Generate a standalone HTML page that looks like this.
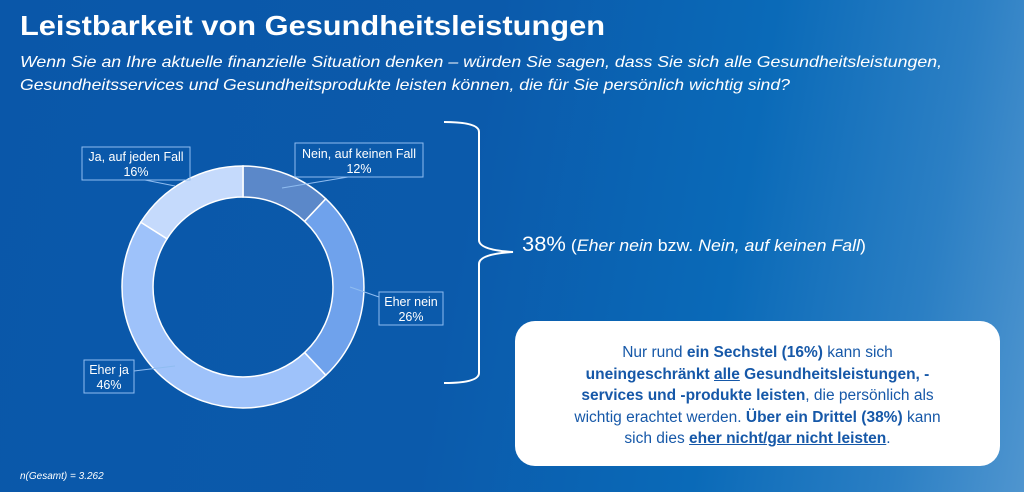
<!DOCTYPE html>
<html><head><meta charset="utf-8"><style>
html,body{margin:0;padding:0;}
body{width:1024px;height:492px;overflow:hidden;background:linear-gradient(100deg,#0a57a9 0%,#0b5aab 45%,#0a6ab8 70%,#2b7fc4 88%,#4f95cf 100%);font-family:"Liberation Sans",sans-serif;}
svg{display:block}
.box{position:absolute;left:515px;top:321px;width:485px;height:145px;background:#fff;border-radius:20px;color:#1658a8;font-size:15.5px;line-height:21.5px;text-align:center;box-sizing:border-box;padding-top:21px;}
</style></head><body>
<svg width="1024" height="492" style="position:absolute;left:0;top:0">
<text x="20" y="35" fill="#fff" font-weight="bold" font-size="28" textLength="585" lengthAdjust="spacingAndGlyphs">Leistbarkeit von Gesundheitsleistungen</text>
<text x="20" y="67" fill="#fff" font-style="italic" font-size="16" textLength="922" lengthAdjust="spacingAndGlyphs">Wenn Sie an Ihre aktuelle finanzielle Situation denken – würden Sie sagen, dass Sie sich alle Gesundheitsleistungen,</text>
<text x="20" y="90" fill="#fff" font-style="italic" font-size="16" textLength="770" lengthAdjust="spacingAndGlyphs">Gesundheitsservices und Gesundheitsprodukte leisten können, die für Sie persönlich wichtig sind?</text>
<g stroke="#fff" stroke-width="1.5">
<path d="M243,166 A121,121 0 0 1 325.8,198.8 L304.6,221.4 A90,90 0 0 0 243,197 Z" fill="#5b88c9"/>
<path d="M325.8,198.8 A121,121 0 0 1 325.8,375.2 L304.6,352.6 A90,90 0 0 0 304.6,221.4 Z" fill="#6fa2ec"/>
<path d="M325.8,375.2 A121,121 0 0 1 140.8,222.2 L167,238.8 A90,90 0 0 0 304.6,352.6 Z" fill="#9ec2fa"/>
<path d="M140.8,222.2 A121,121 0 0 1 243,166 L243,197 A90,90 0 0 0 167,238.8 Z" fill="#c5dafc"/>
</g>
<g stroke="#8fbcf0" stroke-width="1" fill="none">
<rect x="295" y="143" width="128" height="34"/>
<rect x="82" y="147" width="108" height="33"/>
<rect x="379" y="292" width="64" height="33"/>
<rect x="84" y="360" width="50" height="33"/>
<path d="M282,188 L348,177"/>
<path d="M145,180 L175,186"/>
<path d="M350,287 L379,297"/>
<path d="M134,371 L175,366"/>
</g>
<g fill="#fff" font-size="12.5" text-anchor="middle">
<text x="359" y="158">Nein, auf keinen Fall</text><text x="359" y="173">12%</text>
<text x="136" y="161">Ja, auf jeden Fall</text><text x="136" y="176">16%</text>
<text x="411" y="306">Eher nein</text><text x="411" y="321">26%</text>
<text x="109" y="374">Eher ja</text><text x="109" y="389">46%</text>
</g>
<path d="M444,122 Q479,122 479,132 L479,240 Q479,250 513,252 Q479,254 479,264 L479,373 Q479,383 444,383" stroke="#fff" stroke-width="2" fill="none"/>
<text x="522" y="251" fill="#fff" font-size="17" textLength="344" lengthAdjust="spacingAndGlyphs"><tspan font-size="21">38%</tspan> (<tspan font-style="italic">Eher nein</tspan> bzw. <tspan font-style="italic">Nein, auf keinen Fall</tspan>)</text>
<text x="20" y="479" fill="#fff" font-style="italic" font-size="10">n(Gesamt) = 3.262</text>
</svg>
<div class="box">Nur rund <b>ein Sechstel (16%)</b> kann sich<br><b>uneingeschränkt <u>alle</u> Gesundheitsleistungen, -</b><br><b>services und -produkte leisten</b>, die persönlich als<br>wichtig erachtet werden. <b>Über ein Drittel (38%)</b> kann<br>sich dies <b><u>eher nicht/gar nicht leisten</u></b>.</div>
</body></html>
